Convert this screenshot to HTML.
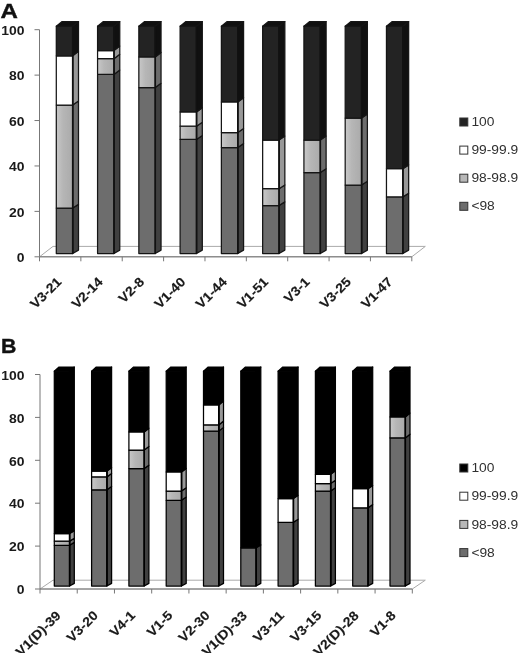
<!DOCTYPE html>
<html><head><meta charset="utf-8"><title>Figure</title>
<style>
html,body{margin:0;padding:0;background:#fff;}
body{width:520px;height:653px;overflow:hidden;}
svg{display:block;filter:blur(0.4px);font-family:"Liberation Sans",sans-serif;}
</style></head><body>
<svg width="520" height="653" viewBox="0 0 520 653">
<defs><linearGradient id="gl" x1="0" y1="0" x2="1" y2="0"><stop offset="0" stop-color="#c8c8c8"/><stop offset="0.4" stop-color="#b6b6b6"/><stop offset="1" stop-color="#aaaaaa"/></linearGradient></defs>
<rect width="520" height="653" fill="#fff"/>
<g>
<polygon points="39.5,256.8 411.8,256.8 425.3,246.4 53,246.4" fill="#fff" stroke="#aaa" stroke-width="1"/>
<line x1="39.5" y1="29.7" x2="39.5" y2="256.8" stroke="#777" stroke-width="1"/>
<line x1="39.5" y1="256.8" x2="411.8" y2="256.8" stroke="#777" stroke-width="1"/>
<line x1="34.5" y1="256.8" x2="39.5" y2="256.8" stroke="#777" stroke-width="1"/>
<text x="24.4" y="262" text-anchor="end" font-size="12.5" font-weight="bold" textLength="7.75" lengthAdjust="spacingAndGlyphs" fill="#1a1a1a">0</text>
<line x1="34.5" y1="211.38" x2="39.5" y2="211.38" stroke="#777" stroke-width="1"/>
<text x="24.4" y="216.58" text-anchor="end" font-size="12.5" font-weight="bold" textLength="15.5" lengthAdjust="spacingAndGlyphs" fill="#1a1a1a">20</text>
<line x1="34.5" y1="165.96" x2="39.5" y2="165.96" stroke="#777" stroke-width="1"/>
<text x="24.4" y="171.16" text-anchor="end" font-size="12.5" font-weight="bold" textLength="15.5" lengthAdjust="spacingAndGlyphs" fill="#1a1a1a">40</text>
<line x1="34.5" y1="120.54" x2="39.5" y2="120.54" stroke="#777" stroke-width="1"/>
<text x="24.4" y="125.74" text-anchor="end" font-size="12.5" font-weight="bold" textLength="15.5" lengthAdjust="spacingAndGlyphs" fill="#1a1a1a">60</text>
<line x1="34.5" y1="75.12" x2="39.5" y2="75.12" stroke="#777" stroke-width="1"/>
<text x="24.4" y="80.32" text-anchor="end" font-size="12.5" font-weight="bold" textLength="15.5" lengthAdjust="spacingAndGlyphs" fill="#1a1a1a">80</text>
<line x1="34.5" y1="29.7" x2="39.5" y2="29.7" stroke="#777" stroke-width="1"/>
<text x="24.4" y="34.9" text-anchor="end" font-size="12.5" font-weight="bold" textLength="23.25" lengthAdjust="spacingAndGlyphs" fill="#1a1a1a">100</text>
<line x1="39.5" y1="256.8" x2="39.5" y2="261.3" stroke="#777" stroke-width="1"/>
<line x1="80.87" y1="256.8" x2="80.87" y2="261.3" stroke="#777" stroke-width="1"/>
<line x1="122.23" y1="256.8" x2="122.23" y2="261.3" stroke="#777" stroke-width="1"/>
<line x1="163.6" y1="256.8" x2="163.6" y2="261.3" stroke="#777" stroke-width="1"/>
<line x1="204.97" y1="256.8" x2="204.97" y2="261.3" stroke="#777" stroke-width="1"/>
<line x1="246.33" y1="256.8" x2="246.33" y2="261.3" stroke="#777" stroke-width="1"/>
<line x1="287.7" y1="256.8" x2="287.7" y2="261.3" stroke="#777" stroke-width="1"/>
<line x1="329.07" y1="256.8" x2="329.07" y2="261.3" stroke="#777" stroke-width="1"/>
<line x1="370.43" y1="256.8" x2="370.43" y2="261.3" stroke="#777" stroke-width="1"/>
<line x1="411.8" y1="256.8" x2="411.8" y2="261.3" stroke="#777" stroke-width="1"/>
<polygon points="72.7,253.5 78.5,250.1 78.5,204.4 72.7,208.04" fill="#404040" stroke="#151515" stroke-width="1.25" stroke-linejoin="round"/>
<polygon points="56.3,253.5 72.7,253.5 72.7,208.04 56.3,208.04" fill="#6d6d6d" stroke="#151515" stroke-width="1.25" stroke-linejoin="round"/>
<polygon points="72.7,208.04 78.5,204.4 78.5,100.89 72.7,105.07" fill="#6c6c6c" stroke="#151515" stroke-width="1.25" stroke-linejoin="round"/>
<polygon points="56.3,208.04 72.7,208.04 72.7,105.07 56.3,105.07" fill="url(#gl)" stroke="#151515" stroke-width="1.25" stroke-linejoin="round"/>
<polygon points="72.7,105.07 78.5,100.89 78.5,51.3 72.7,55.75" fill="#989898" stroke="#151515" stroke-width="1.25" stroke-linejoin="round"/>
<polygon points="56.3,105.07 72.7,105.07 72.7,55.75 56.3,55.75" fill="#ffffff" stroke="#151515" stroke-width="1.25" stroke-linejoin="round"/>
<polygon points="72.7,55.75 78.5,51.3 78.5,21.6 72.7,26.2" fill="#101010" stroke="#151515" stroke-width="1.25" stroke-linejoin="round"/>
<polygon points="56.3,55.75 72.7,55.75 72.7,26.2 56.3,26.2" fill="#232323" stroke="#151515" stroke-width="1.25" stroke-linejoin="round"/>
<line x1="72.7" y1="253.5" x2="72.7" y2="26.2" stroke="#111" stroke-width="1.6"/>
<polygon points="56.3,26.2 72.7,26.2 78.5,21.6 62.1,21.6" fill="#101010" stroke="#151515" stroke-width="1.25" stroke-linejoin="round"/>
<text transform="translate(62.28,282.6) rotate(-45)" text-anchor="end" font-size="13" font-weight="bold" textLength="37.81" lengthAdjust="spacingAndGlyphs" fill="#1a1a1a" stroke="#1a1a1a" stroke-width="0.15">V3-21</text>
<polygon points="113.97,253.5 119.77,250.1 119.77,70.04 113.97,74.39" fill="#404040" stroke="#151515" stroke-width="1.25" stroke-linejoin="round"/>
<polygon points="97.57,253.5 113.97,253.5 113.97,74.39 97.57,74.39" fill="#6d6d6d" stroke="#151515" stroke-width="1.25" stroke-linejoin="round"/>
<polygon points="113.97,74.39 119.77,70.04 119.77,54.28 113.97,58.7" fill="#6c6c6c" stroke="#151515" stroke-width="1.25" stroke-linejoin="round"/>
<polygon points="97.57,74.39 113.97,74.39 113.97,58.7 97.57,58.7" fill="url(#gl)" stroke="#151515" stroke-width="1.25" stroke-linejoin="round"/>
<polygon points="113.97,58.7 119.77,54.28 119.77,46.05 113.97,50.52" fill="#989898" stroke="#151515" stroke-width="1.25" stroke-linejoin="round"/>
<polygon points="97.57,58.7 113.97,58.7 113.97,50.52 97.57,50.52" fill="#ffffff" stroke="#151515" stroke-width="1.25" stroke-linejoin="round"/>
<polygon points="113.97,50.52 119.77,46.05 119.77,21.6 113.97,26.2" fill="#101010" stroke="#151515" stroke-width="1.25" stroke-linejoin="round"/>
<polygon points="97.57,50.52 113.97,50.52 113.97,26.2 97.57,26.2" fill="#232323" stroke="#151515" stroke-width="1.25" stroke-linejoin="round"/>
<line x1="113.97" y1="253.5" x2="113.97" y2="26.2" stroke="#111" stroke-width="1.6"/>
<polygon points="97.57,26.2 113.97,26.2 119.77,21.6 103.37,21.6" fill="#101010" stroke="#151515" stroke-width="1.25" stroke-linejoin="round"/>
<text transform="translate(103.65,282.6) rotate(-45)" text-anchor="end" font-size="13" font-weight="bold" textLength="37.81" lengthAdjust="spacingAndGlyphs" fill="#1a1a1a" stroke="#1a1a1a" stroke-width="0.15">V2-14</text>
<polygon points="155.24,253.5 161.04,250.1 161.04,83.3 155.24,87.57" fill="#404040" stroke="#151515" stroke-width="1.25" stroke-linejoin="round"/>
<polygon points="138.84,253.5 155.24,253.5 155.24,87.57 138.84,87.57" fill="#6d6d6d" stroke="#151515" stroke-width="1.25" stroke-linejoin="round"/>
<polygon points="155.24,87.57 161.04,83.3 161.04,52.45 155.24,56.89" fill="#6c6c6c" stroke="#151515" stroke-width="1.25" stroke-linejoin="round"/>
<polygon points="138.84,87.57 155.24,87.57 155.24,56.89 138.84,56.89" fill="url(#gl)" stroke="#151515" stroke-width="1.25" stroke-linejoin="round"/>
<polygon points="155.24,56.89 161.04,52.45 161.04,21.6 155.24,26.2" fill="#101010" stroke="#151515" stroke-width="1.25" stroke-linejoin="round"/>
<polygon points="138.84,56.89 155.24,56.89 155.24,26.2 138.84,26.2" fill="#232323" stroke="#151515" stroke-width="1.25" stroke-linejoin="round"/>
<line x1="155.24" y1="253.5" x2="155.24" y2="26.2" stroke="#111" stroke-width="1.6"/>
<polygon points="138.84,26.2 155.24,26.2 161.04,21.6 144.64,21.6" fill="#101010" stroke="#151515" stroke-width="1.25" stroke-linejoin="round"/>
<text transform="translate(145.02,282.6) rotate(-45)" text-anchor="end" font-size="13" font-weight="bold" textLength="29.93" lengthAdjust="spacingAndGlyphs" fill="#1a1a1a" stroke="#1a1a1a" stroke-width="0.15">V2-8</text>
<polygon points="196.51,253.5 202.31,250.1 202.31,135.39 196.51,139.4" fill="#404040" stroke="#151515" stroke-width="1.25" stroke-linejoin="round"/>
<polygon points="180.11,253.5 196.51,253.5 196.51,139.4 180.11,139.4" fill="#6d6d6d" stroke="#151515" stroke-width="1.25" stroke-linejoin="round"/>
<polygon points="196.51,139.4 202.31,135.39 202.31,122.14 196.51,126.21" fill="#6c6c6c" stroke="#151515" stroke-width="1.25" stroke-linejoin="round"/>
<polygon points="180.11,139.4 196.51,139.4 196.51,126.21 180.11,126.21" fill="url(#gl)" stroke="#151515" stroke-width="1.25" stroke-linejoin="round"/>
<polygon points="196.51,126.21 202.31,122.14 202.31,107.74 196.51,111.89" fill="#989898" stroke="#151515" stroke-width="1.25" stroke-linejoin="round"/>
<polygon points="180.11,126.21 196.51,126.21 196.51,111.89 180.11,111.89" fill="#ffffff" stroke="#151515" stroke-width="1.25" stroke-linejoin="round"/>
<polygon points="196.51,111.89 202.31,107.74 202.31,21.6 196.51,26.2" fill="#101010" stroke="#151515" stroke-width="1.25" stroke-linejoin="round"/>
<polygon points="180.11,111.89 196.51,111.89 196.51,26.2 180.11,26.2" fill="#232323" stroke="#151515" stroke-width="1.25" stroke-linejoin="round"/>
<line x1="196.51" y1="253.5" x2="196.51" y2="26.2" stroke="#111" stroke-width="1.6"/>
<polygon points="180.11,26.2 196.51,26.2 202.31,21.6 185.91,21.6" fill="#101010" stroke="#151515" stroke-width="1.25" stroke-linejoin="round"/>
<text transform="translate(186.38,282.6) rotate(-45)" text-anchor="end" font-size="13" font-weight="bold" textLength="37.81" lengthAdjust="spacingAndGlyphs" fill="#1a1a1a" stroke="#1a1a1a" stroke-width="0.15">V1-40</text>
<polygon points="237.78,253.5 243.58,250.1 243.58,143.62 237.78,147.58" fill="#404040" stroke="#151515" stroke-width="1.25" stroke-linejoin="round"/>
<polygon points="221.38,253.5 237.78,253.5 237.78,147.58 221.38,147.58" fill="#6d6d6d" stroke="#151515" stroke-width="1.25" stroke-linejoin="round"/>
<polygon points="237.78,147.58 243.58,143.62 243.58,128.54 237.78,132.58" fill="#6c6c6c" stroke="#151515" stroke-width="1.25" stroke-linejoin="round"/>
<polygon points="221.38,147.58 237.78,147.58 237.78,132.58 221.38,132.58" fill="url(#gl)" stroke="#151515" stroke-width="1.25" stroke-linejoin="round"/>
<polygon points="237.78,132.58 243.58,128.54 243.58,97.69 237.78,101.89" fill="#989898" stroke="#151515" stroke-width="1.25" stroke-linejoin="round"/>
<polygon points="221.38,132.58 237.78,132.58 237.78,101.89 221.38,101.89" fill="#ffffff" stroke="#151515" stroke-width="1.25" stroke-linejoin="round"/>
<polygon points="237.78,101.89 243.58,97.69 243.58,21.6 237.78,26.2" fill="#101010" stroke="#151515" stroke-width="1.25" stroke-linejoin="round"/>
<polygon points="221.38,101.89 237.78,101.89 237.78,26.2 221.38,26.2" fill="#232323" stroke="#151515" stroke-width="1.25" stroke-linejoin="round"/>
<line x1="237.78" y1="253.5" x2="237.78" y2="26.2" stroke="#111" stroke-width="1.6"/>
<polygon points="221.38,26.2 237.78,26.2 243.58,21.6 227.18,21.6" fill="#101010" stroke="#151515" stroke-width="1.25" stroke-linejoin="round"/>
<text transform="translate(227.75,282.6) rotate(-45)" text-anchor="end" font-size="13" font-weight="bold" textLength="37.81" lengthAdjust="spacingAndGlyphs" fill="#1a1a1a" stroke="#1a1a1a" stroke-width="0.15">V1-44</text>
<polygon points="279.05,253.5 284.85,250.1 284.85,201.89 279.05,205.54" fill="#404040" stroke="#151515" stroke-width="1.25" stroke-linejoin="round"/>
<polygon points="262.65,253.5 279.05,253.5 279.05,205.54 262.65,205.54" fill="#6d6d6d" stroke="#151515" stroke-width="1.25" stroke-linejoin="round"/>
<polygon points="279.05,205.54 284.85,201.89 284.85,184.98 279.05,188.72" fill="#6c6c6c" stroke="#151515" stroke-width="1.25" stroke-linejoin="round"/>
<polygon points="262.65,205.54 279.05,205.54 279.05,188.72 262.65,188.72" fill="url(#gl)" stroke="#151515" stroke-width="1.25" stroke-linejoin="round"/>
<polygon points="279.05,188.72 284.85,184.98 284.85,136.08 279.05,140.08" fill="#989898" stroke="#151515" stroke-width="1.25" stroke-linejoin="round"/>
<polygon points="262.65,188.72 279.05,188.72 279.05,140.08 262.65,140.08" fill="#ffffff" stroke="#151515" stroke-width="1.25" stroke-linejoin="round"/>
<polygon points="279.05,140.08 284.85,136.08 284.85,21.6 279.05,26.2" fill="#101010" stroke="#151515" stroke-width="1.25" stroke-linejoin="round"/>
<polygon points="262.65,140.08 279.05,140.08 279.05,26.2 262.65,26.2" fill="#232323" stroke="#151515" stroke-width="1.25" stroke-linejoin="round"/>
<line x1="279.05" y1="253.5" x2="279.05" y2="26.2" stroke="#111" stroke-width="1.6"/>
<polygon points="262.65,26.2 279.05,26.2 284.85,21.6 268.45,21.6" fill="#101010" stroke="#151515" stroke-width="1.25" stroke-linejoin="round"/>
<text transform="translate(269.12,282.6) rotate(-45)" text-anchor="end" font-size="13" font-weight="bold" textLength="37.81" lengthAdjust="spacingAndGlyphs" fill="#1a1a1a" stroke="#1a1a1a" stroke-width="0.15">V1-51</text>
<polygon points="320.32,253.5 326.12,250.1 326.12,168.75 320.32,172.58" fill="#404040" stroke="#151515" stroke-width="1.25" stroke-linejoin="round"/>
<polygon points="303.92,253.5 320.32,253.5 320.32,172.58 303.92,172.58" fill="#6d6d6d" stroke="#151515" stroke-width="1.25" stroke-linejoin="round"/>
<polygon points="320.32,172.58 326.12,168.75 326.12,136.08 320.32,140.08" fill="#6c6c6c" stroke="#151515" stroke-width="1.25" stroke-linejoin="round"/>
<polygon points="303.92,172.58 320.32,172.58 320.32,140.08 303.92,140.08" fill="url(#gl)" stroke="#151515" stroke-width="1.25" stroke-linejoin="round"/>
<polygon points="320.32,140.08 326.12,136.08 326.12,21.6 320.32,26.2" fill="#101010" stroke="#151515" stroke-width="1.25" stroke-linejoin="round"/>
<polygon points="303.92,140.08 320.32,140.08 320.32,26.2 303.92,26.2" fill="#232323" stroke="#151515" stroke-width="1.25" stroke-linejoin="round"/>
<line x1="320.32" y1="253.5" x2="320.32" y2="26.2" stroke="#111" stroke-width="1.6"/>
<polygon points="303.92,26.2 320.32,26.2 326.12,21.6 309.72,21.6" fill="#101010" stroke="#151515" stroke-width="1.25" stroke-linejoin="round"/>
<text transform="translate(310.48,282.6) rotate(-45)" text-anchor="end" font-size="13" font-weight="bold" textLength="29.93" lengthAdjust="spacingAndGlyphs" fill="#1a1a1a" stroke="#1a1a1a" stroke-width="0.15">V3-1</text>
<polygon points="361.59,253.5 367.39,250.1 367.39,181.32 361.59,185.08" fill="#404040" stroke="#151515" stroke-width="1.25" stroke-linejoin="round"/>
<polygon points="345.19,253.5 361.59,253.5 361.59,185.08 345.19,185.08" fill="#6d6d6d" stroke="#151515" stroke-width="1.25" stroke-linejoin="round"/>
<polygon points="361.59,185.08 367.39,181.32 367.39,113.91 361.59,118.03" fill="#6c6c6c" stroke="#151515" stroke-width="1.25" stroke-linejoin="round"/>
<polygon points="345.19,185.08 361.59,185.08 361.59,118.03 345.19,118.03" fill="url(#gl)" stroke="#151515" stroke-width="1.25" stroke-linejoin="round"/>
<polygon points="361.59,118.03 367.39,113.91 367.39,21.6 361.59,26.2" fill="#101010" stroke="#151515" stroke-width="1.25" stroke-linejoin="round"/>
<polygon points="345.19,118.03 361.59,118.03 361.59,26.2 345.19,26.2" fill="#232323" stroke="#151515" stroke-width="1.25" stroke-linejoin="round"/>
<line x1="361.59" y1="253.5" x2="361.59" y2="26.2" stroke="#111" stroke-width="1.6"/>
<polygon points="345.19,26.2 361.59,26.2 367.39,21.6 350.99,21.6" fill="#101010" stroke="#151515" stroke-width="1.25" stroke-linejoin="round"/>
<text transform="translate(351.85,282.6) rotate(-45)" text-anchor="end" font-size="13" font-weight="bold" textLength="37.81" lengthAdjust="spacingAndGlyphs" fill="#1a1a1a" stroke="#1a1a1a" stroke-width="0.15">V3-25</text>
<polygon points="402.86,253.5 408.66,250.1 408.66,193.2 402.86,196.9" fill="#404040" stroke="#151515" stroke-width="1.25" stroke-linejoin="round"/>
<polygon points="386.46,253.5 402.86,253.5 402.86,196.9 386.46,196.9" fill="#6d6d6d" stroke="#151515" stroke-width="1.25" stroke-linejoin="round"/>
<polygon points="402.86,196.9 408.66,193.2 408.66,164.87 402.86,168.72" fill="#989898" stroke="#151515" stroke-width="1.25" stroke-linejoin="round"/>
<polygon points="386.46,196.9 402.86,196.9 402.86,168.72 386.46,168.72" fill="#ffffff" stroke="#151515" stroke-width="1.25" stroke-linejoin="round"/>
<polygon points="402.86,168.72 408.66,164.87 408.66,21.6 402.86,26.2" fill="#101010" stroke="#151515" stroke-width="1.25" stroke-linejoin="round"/>
<polygon points="386.46,168.72 402.86,168.72 402.86,26.2 386.46,26.2" fill="#232323" stroke="#151515" stroke-width="1.25" stroke-linejoin="round"/>
<line x1="402.86" y1="253.5" x2="402.86" y2="26.2" stroke="#111" stroke-width="1.6"/>
<polygon points="386.46,26.2 402.86,26.2 408.66,21.6 392.26,21.6" fill="#101010" stroke="#151515" stroke-width="1.25" stroke-linejoin="round"/>
<text transform="translate(393.22,282.6) rotate(-45)" text-anchor="end" font-size="13" font-weight="bold" textLength="37.81" lengthAdjust="spacingAndGlyphs" fill="#1a1a1a" stroke="#1a1a1a" stroke-width="0.15">V1-47</text>
<rect x="459.8" y="118" width="8" height="8" fill="#232323" stroke="#333" stroke-width="1"/>
<text x="471.4" y="126.1" font-size="12" textLength="23.02" lengthAdjust="spacingAndGlyphs" fill="#303030">100</text>
<rect x="459.8" y="146.1" width="8" height="8" fill="#ffffff" stroke="#333" stroke-width="1"/>
<text x="471.4" y="154.2" font-size="12" textLength="46.8" lengthAdjust="spacingAndGlyphs" fill="#303030">99-99.9</text>
<rect x="459.8" y="174.2" width="8" height="8" fill="#b8b8b8" stroke="#333" stroke-width="1"/>
<text x="471.4" y="182.3" font-size="12" textLength="46.8" lengthAdjust="spacingAndGlyphs" fill="#303030">98-98.9</text>
<rect x="459.8" y="202.3" width="8" height="8" fill="#6d6d6d" stroke="#333" stroke-width="1"/>
<text x="471.4" y="210.4" font-size="12" textLength="23.4" lengthAdjust="spacingAndGlyphs" fill="#303030">&lt;98</text>
<text x="0.6" y="17.8" font-size="21" font-weight="bold" textLength="17.4" lengthAdjust="spacingAndGlyphs" fill="#111" stroke="#111" stroke-width="0.4">A</text>
</g>
<g>
<polygon points="40,589 412.3,589 425.3,580.2 53,580.2" fill="#fff" stroke="#aaa" stroke-width="1"/>
<line x1="40" y1="374.5" x2="40" y2="589" stroke="#777" stroke-width="1"/>
<line x1="40" y1="589" x2="412.3" y2="589" stroke="#777" stroke-width="1"/>
<line x1="35" y1="589" x2="40" y2="589" stroke="#777" stroke-width="1"/>
<text x="24.4" y="594.2" text-anchor="end" font-size="12.5" font-weight="bold" textLength="7.75" lengthAdjust="spacingAndGlyphs" fill="#1a1a1a">0</text>
<line x1="35" y1="546.1" x2="40" y2="546.1" stroke="#777" stroke-width="1"/>
<text x="24.4" y="551.3" text-anchor="end" font-size="12.5" font-weight="bold" textLength="15.5" lengthAdjust="spacingAndGlyphs" fill="#1a1a1a">20</text>
<line x1="35" y1="503.2" x2="40" y2="503.2" stroke="#777" stroke-width="1"/>
<text x="24.4" y="508.4" text-anchor="end" font-size="12.5" font-weight="bold" textLength="15.5" lengthAdjust="spacingAndGlyphs" fill="#1a1a1a">40</text>
<line x1="35" y1="460.3" x2="40" y2="460.3" stroke="#777" stroke-width="1"/>
<text x="24.4" y="465.5" text-anchor="end" font-size="12.5" font-weight="bold" textLength="15.5" lengthAdjust="spacingAndGlyphs" fill="#1a1a1a">60</text>
<line x1="35" y1="417.4" x2="40" y2="417.4" stroke="#777" stroke-width="1"/>
<text x="24.4" y="422.6" text-anchor="end" font-size="12.5" font-weight="bold" textLength="15.5" lengthAdjust="spacingAndGlyphs" fill="#1a1a1a">80</text>
<line x1="35" y1="374.5" x2="40" y2="374.5" stroke="#777" stroke-width="1"/>
<text x="24.4" y="379.7" text-anchor="end" font-size="12.5" font-weight="bold" textLength="23.25" lengthAdjust="spacingAndGlyphs" fill="#1a1a1a">100</text>
<line x1="40" y1="589" x2="40" y2="593.5" stroke="#777" stroke-width="1"/>
<line x1="77.23" y1="589" x2="77.23" y2="593.5" stroke="#777" stroke-width="1"/>
<line x1="114.46" y1="589" x2="114.46" y2="593.5" stroke="#777" stroke-width="1"/>
<line x1="151.69" y1="589" x2="151.69" y2="593.5" stroke="#777" stroke-width="1"/>
<line x1="188.92" y1="589" x2="188.92" y2="593.5" stroke="#777" stroke-width="1"/>
<line x1="226.15" y1="589" x2="226.15" y2="593.5" stroke="#777" stroke-width="1"/>
<line x1="263.38" y1="589" x2="263.38" y2="593.5" stroke="#777" stroke-width="1"/>
<line x1="300.61" y1="589" x2="300.61" y2="593.5" stroke="#777" stroke-width="1"/>
<line x1="337.84" y1="589" x2="337.84" y2="593.5" stroke="#777" stroke-width="1"/>
<line x1="375.07" y1="589" x2="375.07" y2="593.5" stroke="#777" stroke-width="1"/>
<line x1="412.3" y1="589" x2="412.3" y2="593.5" stroke="#777" stroke-width="1"/>
<polygon points="69.6,586 74.3,583.4 74.3,542.39 69.6,545.3" fill="#404040" stroke="#000" stroke-width="1.25" stroke-linejoin="round"/>
<polygon points="54.3,586 69.6,586 69.6,545.3 54.3,545.3" fill="#6d6d6d" stroke="#000" stroke-width="1.25" stroke-linejoin="round"/>
<polygon points="69.6,545.3 74.3,542.39 74.3,538.17 69.6,541.11" fill="#6c6c6c" stroke="#000" stroke-width="1.25" stroke-linejoin="round"/>
<polygon points="54.3,545.3 69.6,545.3 69.6,541.11 54.3,541.11" fill="url(#gl)" stroke="#000" stroke-width="1.25" stroke-linejoin="round"/>
<polygon points="69.6,541.11 74.3,538.17 74.3,530.6 69.6,533.59" fill="#989898" stroke="#000" stroke-width="1.25" stroke-linejoin="round"/>
<polygon points="54.3,541.11 69.6,541.11 69.6,533.59 54.3,533.59" fill="#ffffff" stroke="#000" stroke-width="1.25" stroke-linejoin="round"/>
<polygon points="69.6,533.59 74.3,530.6 74.3,367 69.6,371.2" fill="#000" stroke="#000" stroke-width="1.25" stroke-linejoin="round"/>
<polygon points="54.3,533.59 69.6,533.59 69.6,371.2 54.3,371.2" fill="#000" stroke="#000" stroke-width="1.25" stroke-linejoin="round"/>
<line x1="69.6" y1="586" x2="69.6" y2="371.2" stroke="#000" stroke-width="1.6"/>
<polygon points="54.3,371.2 69.6,371.2 74.3,367 59,367" fill="#000" stroke="#000" stroke-width="1.25" stroke-linejoin="round"/>
<text transform="translate(61.62,616.3) rotate(-45)" text-anchor="end" font-size="13" font-weight="bold" textLength="57.47" lengthAdjust="spacingAndGlyphs" fill="#1a1a1a" stroke="#1a1a1a" stroke-width="0.15">V1(D)-39</text>
<polygon points="106.9,586 111.6,583.4 111.6,486.45 106.9,489.77" fill="#404040" stroke="#000" stroke-width="1.25" stroke-linejoin="round"/>
<polygon points="91.6,586 106.9,586 106.9,489.77 91.6,489.77" fill="#6d6d6d" stroke="#000" stroke-width="1.25" stroke-linejoin="round"/>
<polygon points="106.9,489.77 111.6,486.45 111.6,473.47 106.9,476.88" fill="#6c6c6c" stroke="#000" stroke-width="1.25" stroke-linejoin="round"/>
<polygon points="91.6,489.77 106.9,489.77 106.9,476.88 91.6,476.88" fill="url(#gl)" stroke="#000" stroke-width="1.25" stroke-linejoin="round"/>
<polygon points="106.9,476.88 111.6,473.47 111.6,467.63 106.9,471.08" fill="#989898" stroke="#000" stroke-width="1.25" stroke-linejoin="round"/>
<polygon points="91.6,476.88 106.9,476.88 106.9,471.08 91.6,471.08" fill="#ffffff" stroke="#000" stroke-width="1.25" stroke-linejoin="round"/>
<polygon points="106.9,471.08 111.6,467.63 111.6,367 106.9,371.2" fill="#000" stroke="#000" stroke-width="1.25" stroke-linejoin="round"/>
<polygon points="91.6,471.08 106.9,471.08 106.9,371.2 91.6,371.2" fill="#000" stroke="#000" stroke-width="1.25" stroke-linejoin="round"/>
<line x1="106.9" y1="586" x2="106.9" y2="371.2" stroke="#000" stroke-width="1.6"/>
<polygon points="91.6,371.2 106.9,371.2 111.6,367 96.3,367" fill="#000" stroke="#000" stroke-width="1.25" stroke-linejoin="round"/>
<text transform="translate(98.84,616.3) rotate(-45)" text-anchor="end" font-size="13" font-weight="bold" textLength="37.81" lengthAdjust="spacingAndGlyphs" fill="#1a1a1a" stroke="#1a1a1a" stroke-width="0.15">V3-20</text>
<polygon points="144.2,586 148.9,583.4 148.9,465.14 144.2,468.61" fill="#404040" stroke="#000" stroke-width="1.25" stroke-linejoin="round"/>
<polygon points="128.9,586 144.2,586 144.2,468.61 128.9,468.61" fill="#6d6d6d" stroke="#000" stroke-width="1.25" stroke-linejoin="round"/>
<polygon points="144.2,468.61 148.9,465.14 148.9,446.42 144.2,450.03" fill="#6c6c6c" stroke="#000" stroke-width="1.25" stroke-linejoin="round"/>
<polygon points="128.9,468.61 144.2,468.61 144.2,450.03 128.9,450.03" fill="url(#gl)" stroke="#000" stroke-width="1.25" stroke-linejoin="round"/>
<polygon points="144.2,450.03 148.9,446.42 148.9,428.24 144.2,431.99" fill="#989898" stroke="#000" stroke-width="1.25" stroke-linejoin="round"/>
<polygon points="128.9,450.03 144.2,450.03 144.2,431.99 128.9,431.99" fill="#ffffff" stroke="#000" stroke-width="1.25" stroke-linejoin="round"/>
<polygon points="144.2,431.99 148.9,428.24 148.9,367 144.2,371.2" fill="#000" stroke="#000" stroke-width="1.25" stroke-linejoin="round"/>
<polygon points="128.9,431.99 144.2,431.99 144.2,371.2 128.9,371.2" fill="#000" stroke="#000" stroke-width="1.25" stroke-linejoin="round"/>
<line x1="144.2" y1="586" x2="144.2" y2="371.2" stroke="#000" stroke-width="1.6"/>
<polygon points="128.9,371.2 144.2,371.2 148.9,367 133.6,367" fill="#000" stroke="#000" stroke-width="1.25" stroke-linejoin="round"/>
<text transform="translate(136.08,616.3) rotate(-45)" text-anchor="end" font-size="13" font-weight="bold" textLength="29.93" lengthAdjust="spacingAndGlyphs" fill="#1a1a1a" stroke="#1a1a1a" stroke-width="0.15">V4-1</text>
<polygon points="181.5,586 186.2,583.4 186.2,497.06 181.5,500.29" fill="#404040" stroke="#000" stroke-width="1.25" stroke-linejoin="round"/>
<polygon points="166.2,586 181.5,586 181.5,500.29 166.2,500.29" fill="#6d6d6d" stroke="#000" stroke-width="1.25" stroke-linejoin="round"/>
<polygon points="181.5,500.29 186.2,497.06 186.2,487.75 181.5,491.06" fill="#6c6c6c" stroke="#000" stroke-width="1.25" stroke-linejoin="round"/>
<polygon points="166.2,500.29 181.5,500.29 181.5,491.06 166.2,491.06" fill="url(#gl)" stroke="#000" stroke-width="1.25" stroke-linejoin="round"/>
<polygon points="181.5,491.06 186.2,487.75 186.2,468.49 181.5,471.94" fill="#989898" stroke="#000" stroke-width="1.25" stroke-linejoin="round"/>
<polygon points="166.2,491.06 181.5,491.06 181.5,471.94 166.2,471.94" fill="#ffffff" stroke="#000" stroke-width="1.25" stroke-linejoin="round"/>
<polygon points="181.5,471.94 186.2,468.49 186.2,367 181.5,371.2" fill="#000" stroke="#000" stroke-width="1.25" stroke-linejoin="round"/>
<polygon points="166.2,471.94 181.5,471.94 181.5,371.2 166.2,371.2" fill="#000" stroke="#000" stroke-width="1.25" stroke-linejoin="round"/>
<line x1="181.5" y1="586" x2="181.5" y2="371.2" stroke="#000" stroke-width="1.6"/>
<polygon points="166.2,371.2 181.5,371.2 186.2,367 170.9,367" fill="#000" stroke="#000" stroke-width="1.25" stroke-linejoin="round"/>
<text transform="translate(173.31,616.3) rotate(-45)" text-anchor="end" font-size="13" font-weight="bold" textLength="29.93" lengthAdjust="spacingAndGlyphs" fill="#1a1a1a" stroke="#1a1a1a" stroke-width="0.15">V1-5</text>
<polygon points="218.8,586 223.5,583.4 223.5,427.38 218.8,431.13" fill="#404040" stroke="#000" stroke-width="1.25" stroke-linejoin="round"/>
<polygon points="203.5,586 218.8,586 218.8,431.13 203.5,431.13" fill="#6d6d6d" stroke="#000" stroke-width="1.25" stroke-linejoin="round"/>
<polygon points="218.8,431.13 223.5,427.38 223.5,421.1 218.8,424.9" fill="#6c6c6c" stroke="#000" stroke-width="1.25" stroke-linejoin="round"/>
<polygon points="203.5,431.13 218.8,431.13 218.8,424.9 203.5,424.9" fill="url(#gl)" stroke="#000" stroke-width="1.25" stroke-linejoin="round"/>
<polygon points="218.8,424.9 223.5,421.1 223.5,400.97 218.8,404.92" fill="#989898" stroke="#000" stroke-width="1.25" stroke-linejoin="round"/>
<polygon points="203.5,424.9 218.8,424.9 218.8,404.92 203.5,404.92" fill="#ffffff" stroke="#000" stroke-width="1.25" stroke-linejoin="round"/>
<polygon points="218.8,404.92 223.5,400.97 223.5,367 218.8,371.2" fill="#000" stroke="#000" stroke-width="1.25" stroke-linejoin="round"/>
<polygon points="203.5,404.92 218.8,404.92 218.8,371.2 203.5,371.2" fill="#000" stroke="#000" stroke-width="1.25" stroke-linejoin="round"/>
<line x1="218.8" y1="586" x2="218.8" y2="371.2" stroke="#000" stroke-width="1.6"/>
<polygon points="203.5,371.2 218.8,371.2 223.5,367 208.2,367" fill="#000" stroke="#000" stroke-width="1.25" stroke-linejoin="round"/>
<text transform="translate(210.54,616.3) rotate(-45)" text-anchor="end" font-size="13" font-weight="bold" textLength="37.81" lengthAdjust="spacingAndGlyphs" fill="#1a1a1a" stroke="#1a1a1a" stroke-width="0.15">V2-30</text>
<polygon points="256.1,586 260.8,583.4 260.8,544.88 256.1,547.77" fill="#404040" stroke="#000" stroke-width="1.25" stroke-linejoin="round"/>
<polygon points="240.8,586 256.1,586 256.1,547.77 240.8,547.77" fill="#6d6d6d" stroke="#000" stroke-width="1.25" stroke-linejoin="round"/>
<polygon points="256.1,547.77 260.8,544.88 260.8,367 256.1,371.2" fill="#000" stroke="#000" stroke-width="1.25" stroke-linejoin="round"/>
<polygon points="240.8,547.77 256.1,547.77 256.1,371.2 240.8,371.2" fill="#000" stroke="#000" stroke-width="1.25" stroke-linejoin="round"/>
<line x1="256.1" y1="586" x2="256.1" y2="371.2" stroke="#000" stroke-width="1.6"/>
<polygon points="240.8,371.2 256.1,371.2 260.8,367 245.5,367" fill="#000" stroke="#000" stroke-width="1.25" stroke-linejoin="round"/>
<text transform="translate(247.77,616.3) rotate(-45)" text-anchor="end" font-size="13" font-weight="bold" textLength="57.47" lengthAdjust="spacingAndGlyphs" fill="#1a1a1a" stroke="#1a1a1a" stroke-width="0.15">V1(D)-33</text>
<polygon points="293.4,586 298.1,583.4 298.1,519.24 293.4,522.31" fill="#404040" stroke="#000" stroke-width="1.25" stroke-linejoin="round"/>
<polygon points="278.1,586 293.4,586 293.4,522.31 278.1,522.31" fill="#6d6d6d" stroke="#000" stroke-width="1.25" stroke-linejoin="round"/>
<polygon points="293.4,522.31 298.1,519.24 298.1,495.33 293.4,498.58" fill="#989898" stroke="#000" stroke-width="1.25" stroke-linejoin="round"/>
<polygon points="278.1,522.31 293.4,522.31 293.4,498.58 278.1,498.58" fill="#ffffff" stroke="#000" stroke-width="1.25" stroke-linejoin="round"/>
<polygon points="293.4,498.58 298.1,495.33 298.1,367 293.4,371.2" fill="#000" stroke="#000" stroke-width="1.25" stroke-linejoin="round"/>
<polygon points="278.1,498.58 293.4,498.58 293.4,371.2 278.1,371.2" fill="#000" stroke="#000" stroke-width="1.25" stroke-linejoin="round"/>
<line x1="293.4" y1="586" x2="293.4" y2="371.2" stroke="#000" stroke-width="1.6"/>
<polygon points="278.1,371.2 293.4,371.2 298.1,367 282.8,367" fill="#000" stroke="#000" stroke-width="1.25" stroke-linejoin="round"/>
<text transform="translate(285,616.3) rotate(-45)" text-anchor="end" font-size="13" font-weight="bold" textLength="37.81" lengthAdjust="spacingAndGlyphs" fill="#1a1a1a" stroke="#1a1a1a" stroke-width="0.15">V3-11</text>
<polygon points="330.7,586 335.4,583.4 335.4,487.75 330.7,491.06" fill="#404040" stroke="#000" stroke-width="1.25" stroke-linejoin="round"/>
<polygon points="315.4,586 330.7,586 330.7,491.06 315.4,491.06" fill="#6d6d6d" stroke="#000" stroke-width="1.25" stroke-linejoin="round"/>
<polygon points="330.7,491.06 335.4,487.75 335.4,480.18 330.7,483.54" fill="#6c6c6c" stroke="#000" stroke-width="1.25" stroke-linejoin="round"/>
<polygon points="315.4,491.06 330.7,491.06 330.7,483.54 315.4,483.54" fill="url(#gl)" stroke="#000" stroke-width="1.25" stroke-linejoin="round"/>
<polygon points="330.7,483.54 335.4,480.18 335.4,470.87 330.7,474.3" fill="#989898" stroke="#000" stroke-width="1.25" stroke-linejoin="round"/>
<polygon points="315.4,483.54 330.7,483.54 330.7,474.3 315.4,474.3" fill="#ffffff" stroke="#000" stroke-width="1.25" stroke-linejoin="round"/>
<polygon points="330.7,474.3 335.4,470.87 335.4,367 330.7,371.2" fill="#000" stroke="#000" stroke-width="1.25" stroke-linejoin="round"/>
<polygon points="315.4,474.3 330.7,474.3 330.7,371.2 315.4,371.2" fill="#000" stroke="#000" stroke-width="1.25" stroke-linejoin="round"/>
<line x1="330.7" y1="586" x2="330.7" y2="371.2" stroke="#000" stroke-width="1.6"/>
<polygon points="315.4,371.2 330.7,371.2 335.4,367 320.1,367" fill="#000" stroke="#000" stroke-width="1.25" stroke-linejoin="round"/>
<text transform="translate(322.23,616.3) rotate(-45)" text-anchor="end" font-size="13" font-weight="bold" textLength="37.81" lengthAdjust="spacingAndGlyphs" fill="#1a1a1a" stroke="#1a1a1a" stroke-width="0.15">V3-15</text>
<polygon points="368,586 372.7,583.4 372.7,504.63 368,507.81" fill="#404040" stroke="#000" stroke-width="1.25" stroke-linejoin="round"/>
<polygon points="352.7,586 368,586 368,507.81 352.7,507.81" fill="#6d6d6d" stroke="#000" stroke-width="1.25" stroke-linejoin="round"/>
<polygon points="368,507.81 372.7,504.63 372.7,485.37 368,488.7" fill="#989898" stroke="#000" stroke-width="1.25" stroke-linejoin="round"/>
<polygon points="352.7,507.81 368,507.81 368,488.7 352.7,488.7" fill="#ffffff" stroke="#000" stroke-width="1.25" stroke-linejoin="round"/>
<polygon points="368,488.7 372.7,485.37 372.7,367 368,371.2" fill="#000" stroke="#000" stroke-width="1.25" stroke-linejoin="round"/>
<polygon points="352.7,488.7 368,488.7 368,371.2 352.7,371.2" fill="#000" stroke="#000" stroke-width="1.25" stroke-linejoin="round"/>
<line x1="368" y1="586" x2="368" y2="371.2" stroke="#000" stroke-width="1.6"/>
<polygon points="352.7,371.2 368,371.2 372.7,367 357.4,367" fill="#000" stroke="#000" stroke-width="1.25" stroke-linejoin="round"/>
<text transform="translate(359.46,616.3) rotate(-45)" text-anchor="end" font-size="13" font-weight="bold" textLength="57.47" lengthAdjust="spacingAndGlyphs" fill="#1a1a1a" stroke="#1a1a1a" stroke-width="0.15">V2(D)-28</text>
<polygon points="405.3,586 410,583.4 410,434.19 405.3,437.9" fill="#404040" stroke="#000" stroke-width="1.25" stroke-linejoin="round"/>
<polygon points="390,586 405.3,586 405.3,437.9 390,437.9" fill="#6d6d6d" stroke="#000" stroke-width="1.25" stroke-linejoin="round"/>
<polygon points="405.3,437.9 410,434.19 410,413.09 405.3,416.95" fill="#6c6c6c" stroke="#000" stroke-width="1.25" stroke-linejoin="round"/>
<polygon points="390,437.9 405.3,437.9 405.3,416.95 390,416.95" fill="url(#gl)" stroke="#000" stroke-width="1.25" stroke-linejoin="round"/>
<polygon points="405.3,416.95 410,413.09 410,367 405.3,371.2" fill="#000" stroke="#000" stroke-width="1.25" stroke-linejoin="round"/>
<polygon points="390,416.95 405.3,416.95 405.3,371.2 390,371.2" fill="#000" stroke="#000" stroke-width="1.25" stroke-linejoin="round"/>
<line x1="405.3" y1="586" x2="405.3" y2="371.2" stroke="#000" stroke-width="1.6"/>
<polygon points="390,371.2 405.3,371.2 410,367 394.7,367" fill="#000" stroke="#000" stroke-width="1.25" stroke-linejoin="round"/>
<text transform="translate(396.69,616.3) rotate(-45)" text-anchor="end" font-size="13" font-weight="bold" textLength="29.93" lengthAdjust="spacingAndGlyphs" fill="#1a1a1a" stroke="#1a1a1a" stroke-width="0.15">V1-8</text>
<rect x="459.8" y="464" width="8" height="8" fill="#000" stroke="#333" stroke-width="1"/>
<text x="471.4" y="472.1" font-size="12" textLength="23.02" lengthAdjust="spacingAndGlyphs" fill="#303030">100</text>
<rect x="459.8" y="492.2" width="8" height="8" fill="#ffffff" stroke="#333" stroke-width="1"/>
<text x="471.4" y="500.3" font-size="12" textLength="46.8" lengthAdjust="spacingAndGlyphs" fill="#303030">99-99.9</text>
<rect x="459.8" y="520.4" width="8" height="8" fill="#b8b8b8" stroke="#333" stroke-width="1"/>
<text x="471.4" y="528.5" font-size="12" textLength="46.8" lengthAdjust="spacingAndGlyphs" fill="#303030">98-98.9</text>
<rect x="459.8" y="548.6" width="8" height="8" fill="#6d6d6d" stroke="#333" stroke-width="1"/>
<text x="471.4" y="556.7" font-size="12" textLength="23.4" lengthAdjust="spacingAndGlyphs" fill="#303030">&lt;98</text>
<text x="0.9" y="353.4" font-size="21" font-weight="bold" textLength="15.4" lengthAdjust="spacingAndGlyphs" fill="#111" stroke="#111" stroke-width="0.4">B</text>
</g>
</svg>
</body></html>
